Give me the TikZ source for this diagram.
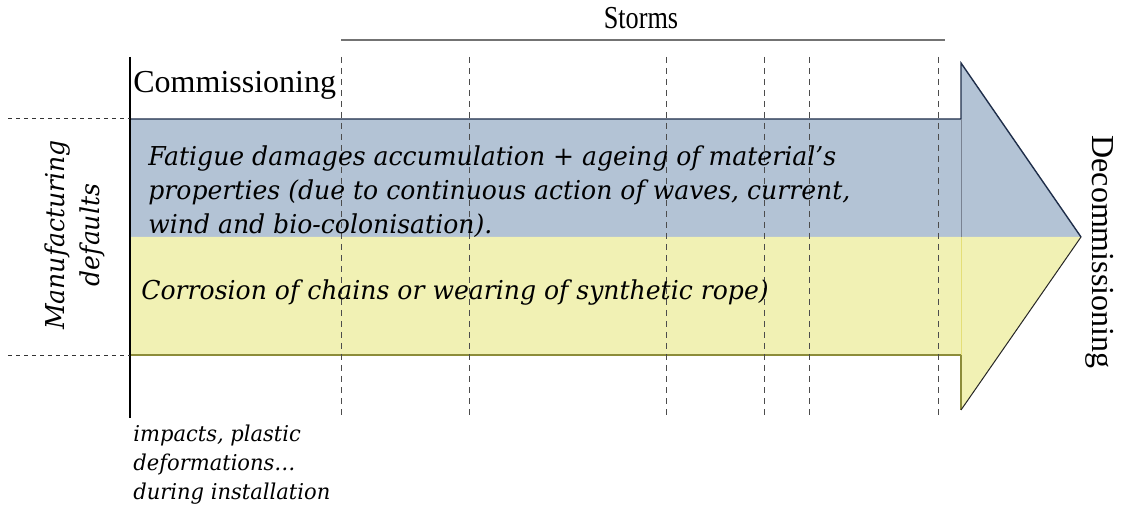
\documentclass[tikz,border=0pt]{standalone}
\usepackage{fontspec}
\setmainfont{Liberation Serif}
\newfontfamily\dvs{DejaVu Serif}[FakeStretch=0.965]
\begin{document}
\begin{tikzpicture}[x=0.5pt,y=-0.5pt,
  lbl/.style={inner sep=0pt, font=\fontsize{16}{19}\selectfont},
  itl/.style={inner sep=0pt, align=left, font=\dvs\itshape\fontsize{13}{17.2}\selectfont},
  smallit/.style={inner sep=0pt, align=left, font=\dvs\itshape\fontsize{10.9}{14.3}\selectfont},
  vdash/.style={draw=black!70, dash pattern=on 3pt off 2.5pt, line width=0.5pt},
  hdash/.style={draw=black!80, dash pattern=on 2pt off 2pt, line width=0.5pt}]
\definecolor{bandblue}{HTML}{B3C3D5}
\definecolor{bandyellow}{HTML}{F1F1B4}
\definecolor{edgeblue}{HTML}{1F2E4A}
\definecolor{edgeyellow}{HTML}{8C8C3A}
\useasboundingbox (0,0) rectangle (1121,508);
% key points
\coordinate (ltop) at (130,119);
\coordinate (lmid) at (130,237);
\coordinate (lbot) at (130,355);
\coordinate (nt) at (961,119);
\coordinate (nm) at (961,237);
\coordinate (nb) at (961,355);
\coordinate (ht) at (961,63);
\coordinate (hb) at (961,410);
\coordinate (tip) at (1081,237);
% bands
\fill[bandblue] (ltop) -- (nt) -- (ht) -- (tip) -- (lmid) -- cycle;
\fill[bandyellow] (lmid) -- (tip) -- (hb) -- (nb) -- (lbot) -- cycle;
\draw[edgeblue, line width=0.7pt] (ltop) -- (nt) -- (ht) -- (tip);
\draw[edgeyellow, line width=0.8pt] (lbot) -- (nb) -- (hb);
\draw[black!85, line width=0.5pt] (hb) -- (tip);
\draw[edgeblue!60, line width=0.4pt] (nt) -- (nm);
\draw[yellow!80!black!60, line width=0.4pt] (nm) -- (nb);
% storms
\node[lbl] (storms) at (641,18) {\scalebox{0.82}[1]{Storms}};
\coordinate (sl) at (341,40);
\coordinate (sr) at (945,40);
\draw[black!55, line width=1pt] (sl) -- (sr);
% time axis
\coordinate (at) at (130,57);
\coordinate (ab) at (130,418);
\draw[black, line width=0.6pt] (at) -- (ab);
\foreach \x/\n in {341/a,469/b,666/c,764/d,809/e,938/f}{
  \coordinate (s\n t) at (\x,57);
  \coordinate (s\n b) at (\x,418);
  \draw[vdash] (s\n t) -- (s\n b);
}
% left dashed
\coordinate (dl1) at (8,119);
\coordinate (dl2) at (8,355);
\draw[hdash] (dl1) -- (ltop);
\draw[hdash] (dl2) -- (lbot);
% texts
\node[lbl, anchor=west] (comm) at (133,85) {Commissioning};
\node[lbl, rotate=-90] (decomm) at (1100,252) {Decommissioning};
\node[itl, anchor=north west] (fatigue) at (148,145) {Fatigue damages accumulation + ageing of material’s\\properties (due to continuous action of waves, current,\\wind and bio-colonisation).};
\node[itl, anchor=west] (corr) at (141,293) {Corrosion of chains or wearing of synthetic rope)};
\node[itl, align=center, rotate=90] (manu) at (75,235) {Manufacturing\\defaults};
\node[smallit, anchor=north west] (impacts) at (133,425) {impacts, plastic\\deformations…\\during installation};
\end{tikzpicture}
\end{document}
